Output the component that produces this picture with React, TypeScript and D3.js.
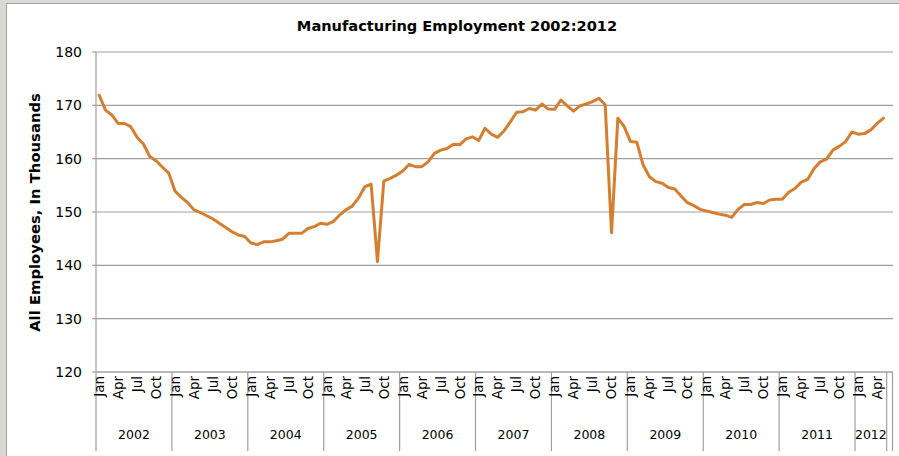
import React from 'react';
import * as d3 from 'd3';

// Monthly values, Jan 2002 .. May 2012 (thousands)
const employment: number[] = [
  171.9, 169.1, 168.2, 166.6, 166.6, 166.0, 164.0, 162.75, 160.4, 159.6, 158.4, 157.3,
  153.9, 152.75, 151.75, 150.4, 149.9, 149.3, 148.7, 147.9, 147.1, 146.3, 145.7, 145.4,
  144.2, 143.9, 144.4, 144.4, 144.6, 144.9, 146.0, 146.0, 146.0, 146.9, 147.25, 147.9,
  147.7, 148.2, 149.4, 150.4, 151.1, 152.6, 154.75, 155.2, 140.7, 155.8, 156.3, 156.9,
  157.7, 158.9, 158.5, 158.5, 159.4, 161.0, 161.6, 161.9, 162.7, 162.6, 163.7, 164.1,
  163.4, 165.7, 164.6, 164.0, 165.2, 166.9, 168.7, 168.8, 169.4, 169.1, 170.25, 169.3,
  169.25, 171.0, 169.9, 168.9, 169.9, 170.25, 170.7, 171.3, 170.1, 146.1, 167.6, 166.0,
  163.2, 163.1, 158.8, 156.6, 155.7, 155.4, 154.6, 154.3, 153.0, 151.75, 151.2, 150.5,
  150.2, 149.9, 149.6, 149.4, 149.0, 150.5, 151.4, 151.4, 151.8, 151.6, 152.25, 152.4,
  152.4, 153.7, 154.4, 155.6, 156.1, 158.1, 159.4, 159.9, 161.6, 162.3, 163.2, 165.0,
  164.6, 164.7, 165.4, 166.6, 167.6,
];

const years = ['2002', '2003', '2004', '2005', '2006', '2007', '2008', '2009', '2010', '2011', '2012'];
const monthLabels = ['Jan', '', '', 'Apr', '', '', 'Jul', '', '', 'Oct', '', ''];
const yTicks = [120, 130, 140, 150, 160, 170, 180];

const W = 899;
const H = 456;
const left = 96;
const right = 893;
const top = 52;
const bottom = 372;
const slotCount = 126; // axis keeps one empty slot after the last month
const font = '"DejaVu Sans", Verdana, sans-serif';

export default function App() {
  const x = d3.scaleBand<number>()
    .domain(d3.range(slotCount))
    .range([left, right])
    .padding(0);
  const y = d3.scaleLinear().domain([120, 180]).range([bottom, top]);
  const bw = x.bandwidth();
  const cx = (i: number) => (x(i) as number) + bw / 2;

  const line = d3.line<number>()
    .x((_, i) => cx(i))
    .y(d => y(d));

  // year group boundaries (in slot indices)
  const groups = years.map((yr, gi) => {
    const start = gi * 12;
    const end = Math.min(start + 12, employment.length);
    return { yr, start, end };
  });

  const sepX = [
    ...groups.map(g => x(g.start) as number),
    (x(groups[groups.length - 1].end) as number),
  ];

  return (
    <div style={{ position: 'absolute', left: 0, top: 0 }}>
      <svg width={W} height={H} style={{ display: 'block' }}>
        <rect x={0} y={0} width={W} height={H} fill="#d9dad5" />
        <rect x={6.5} y={3.5} width={W} height={H} fill="#ffffff" stroke="#a3a3a3" />

        <text x={457} y={31} textAnchor="middle" fontFamily={font} fontWeight="bold" fontSize={14.6} fill="#000">
          Manufacturing Employment 2002:2012
        </text>

        {/* gridlines */}
        {yTicks.map(t => (
          <line key={t} x1={left} x2={right} y1={y(t)} y2={y(t)} stroke="#a0a0a0" strokeWidth={1.2} />
        ))}
        {yTicks.map(t => (
          <line key={'tk' + t} x1={left - 4} x2={left} y1={y(t)} y2={y(t)} stroke="#a0a0a0" strokeWidth={1.2} />
        ))}
        {yTicks.map(t => (
          <text key={'l' + t} x={82} y={y(t)} dy="0.36em" textAnchor="end" fontFamily={font} fontSize={14} fill="#000">
            {t}
          </text>
        ))}

        <text
          transform={`translate(40,212.5) rotate(-90)`}
          textAnchor="middle"
          fontFamily={font}
          fontWeight="bold"
          fontSize={14.8}
          fill="#000"
        >
          All Employees, In Thousands
        </text>

        {/* axes */}
        <line x1={left} x2={right} y1={bottom} y2={bottom} stroke="#a0a0a0" strokeWidth={1.2} />
        {sepX.map((sx, i) => (
          <line key={'s' + i} x1={sx} x2={sx} y1={i === 0 ? top : bottom} y2={451} stroke="#a0a0a0" strokeWidth={1.2} />
        ))}
        <line x1={right - 0.5} x2={right - 0.5} y1={bottom} y2={451} stroke="#a0a0a0" strokeWidth={1.2} />

        {/* month labels */}
        {d3.range(employment.length).map(i => {
          const lab = monthLabels[i % 12];
          if (!lab) return null;
          return (
            <text
              key={'m' + i}
              transform={`translate(${cx(i) + 4.8},376) rotate(-90)`}
              textAnchor="end"
              fontFamily={font}
              fontSize={13.5}
              fill="#000"
            >
              {lab}
            </text>
          );
        })}

        {/* year labels */}
        {groups.map(g => (
          <text
            key={g.yr}
            x={((x(g.start) as number) + (x(g.end) as number)) / 2}
            y={439}
            textAnchor="middle"
            fontFamily={font}
            fontSize={12.5}
            fill="#000"
          >
            {g.yr}
          </text>
        ))}

        <path
          d={line(employment) || ''}
          fill="none"
          stroke="#d47e30"
          strokeWidth={3}
          strokeLinejoin="round"
          strokeLinecap="round"
        />
      </svg>
    </div>
  );
}
